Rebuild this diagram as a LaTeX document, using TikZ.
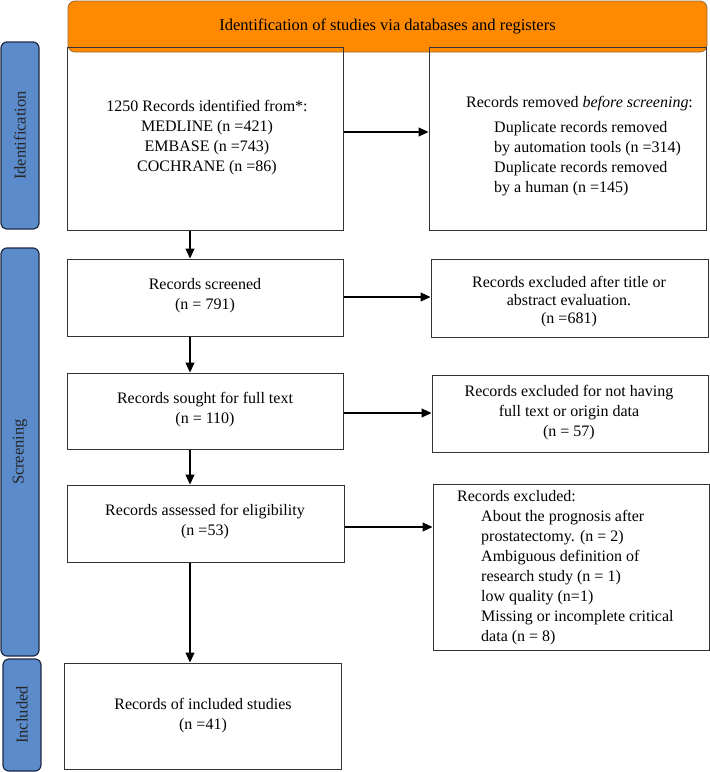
\documentclass[tikz,border=0pt]{standalone}
\usepackage{fontspec}
\setmainfont{Liberation Serif}
\usetikzlibrary{arrows.meta}
\definecolor{barblue}{HTML}{5B8BCB}
\definecolor{barline}{HTML}{1F2A44}
\definecolor{orangefill}{HTML}{FF8A00}
\definecolor{orangeline}{HTML}{9A6A3A}
\tikzset{
  boxnode/.style={draw=black!80, line width=1pt, inner sep=0pt},
  txt/.style={inner sep=0pt, align=center, font=\fontsize{16}{20}\selectfont},
  txtl/.style={inner sep=0pt, align=left, font=\fontsize{16}{20}\selectfont},
  sidebar/.style={draw=barline, fill=barblue, line width=1.2pt, rounded corners=6pt, inner sep=0pt},
  sidelabel/.style={rotate=90, inner sep=0pt, font=\fontsize{16.5}{18}\selectfont, text=black!85},
  arr/.style={line width=1.1pt, -{Triangle[length=10pt,width=9pt]}},
}
\begin{document}
\begin{tikzpicture}[x=1pt,y=-1pt]
\useasboundingbox (0,0) rectangle (710,772);
% title bar
\node[draw=orangeline, fill=orangefill, line width=0.8pt, rounded corners=7pt, minimum width=639pt, minimum height=51pt, inner sep=0pt] (title) at (387.5,26.5) {};
\node[inner sep=0pt, font=\fontsize{16.5}{18}\selectfont] (titletext) at (title.center) {Identification of studies via databases and registers};
% side bars
\node[sidebar, minimum width=38pt, minimum height=187pt] (idbar) at (20,135.5) {};
\node[sidelabel] (idlabel) at (idbar.center) {Identification};
\node[sidebar, minimum width=38pt, minimum height=408pt] (scrbar) at (20,452) {};
\node[sidelabel] (scrlabel) at (scrbar.center) {Screening};
\node[sidebar, minimum width=38pt, minimum height=112pt] (incbar) at (22,715) {};
\node[sidelabel] (inclabel) at (incbar.center) {Included};
% left boxes
\node[boxnode, minimum width=276pt, minimum height=183pt] (b1) at (205,138.5) {};
\node[txt] (b1t) at (207,138) {1250 Records identified from*:\\MEDLINE (n =421)\\EMBASE (n =743)\\COCHRANE (n =86)};
\node[boxnode, minimum width=276pt, minimum height=77pt] (b2) at (205,297.5) {};
\node[txt] (b2t) at (205,296) {Records screened\\(n = 791)};
\node[boxnode, minimum width=276pt, minimum height=76pt] (b3) at (205,411) {};
\node[txt] (b3t) at (205,410) {Records sought for full text\\(n = 110)};
\node[boxnode, minimum width=277pt, minimum height=77pt] (b4) at (205.5,523.5) {};
\node[txt] (b4t) at (205,522) {Records assessed for eligibility\\(n =53)};
\node[boxnode, minimum width=277pt, minimum height=106pt] (b5) at (202.5,716) {};
\node[txt] (b5t) at (203,716) {Records of included studies\\(n =41)};
% right boxes
\node[boxnode, minimum width=277pt, minimum height=183pt] (r1) at (567.5,138.5) {};
\node[txtl, anchor=west] (r1t) at (466,146) {Records removed \textit{before screening}:\\[5pt]
\hspace*{28pt}Duplicate records removed\\
\hspace*{28pt}by automation tools (n =314)\\
\hspace*{28pt}Duplicate records removed\\
\hspace*{28pt}by a human (n =145)};
\node[boxnode, minimum width=277pt, minimum height=78pt] (r2) at (569.5,298) {};
\node[txt, font=\fontsize{16}{18}\selectfont] (r2t) at (569,302) {Records excluded after title or\\abstract evaluation.\\(n =681)};
\node[boxnode, minimum width=276pt, minimum height=77pt] (r3) at (570,413.5) {};
\node[txt] (r3t) at (569,413) {Records excluded for not having\\full text or origin data\\(n = 57)};
\node[boxnode, minimum width=276pt, minimum height=166pt] (r4) at (571,567) {};
\node[txtl, anchor=west] (r4t) at (457,568) {Records excluded:\\
\hspace*{24pt}About the prognosis after\\
\hspace*{24pt}prostatectomy. (n = 2)\\
\hspace*{24pt}Ambiguous definition of\\
\hspace*{24pt}research study (n = 1)\\
\hspace*{24pt}low quality (n=1)\\
\hspace*{24pt}Missing or incomplete critical\\
\hspace*{24pt}data (n = 8)};
% arrows
\coordinate (ax) at (190,0);
\draw[arr] (b1.south -| ax) -- (b2.north -| ax);
\draw[arr] (b2.south -| ax) -- (b3.north -| ax);
\draw[arr] (b3.south -| ax) -- (b4.north -| ax);
\draw[arr] (b4.south -| ax) -- (b5.north -| ax);
\coordinate (y1) at (0,132);
\coordinate (y2) at (0,297);
\coordinate (y3) at (0,413);
\coordinate (y4) at (0,527);
\draw[arr] (b1.east |- y1) -- (r1.west |- y1);
\draw[arr] (b2.east |- y2) -- (r2.west |- y2);
\draw[arr] (b3.east |- y3) -- (r3.west |- y3);
\draw[arr] (b4.east |- y4) -- (r4.west |- y4);
\end{tikzpicture}
\end{document}
